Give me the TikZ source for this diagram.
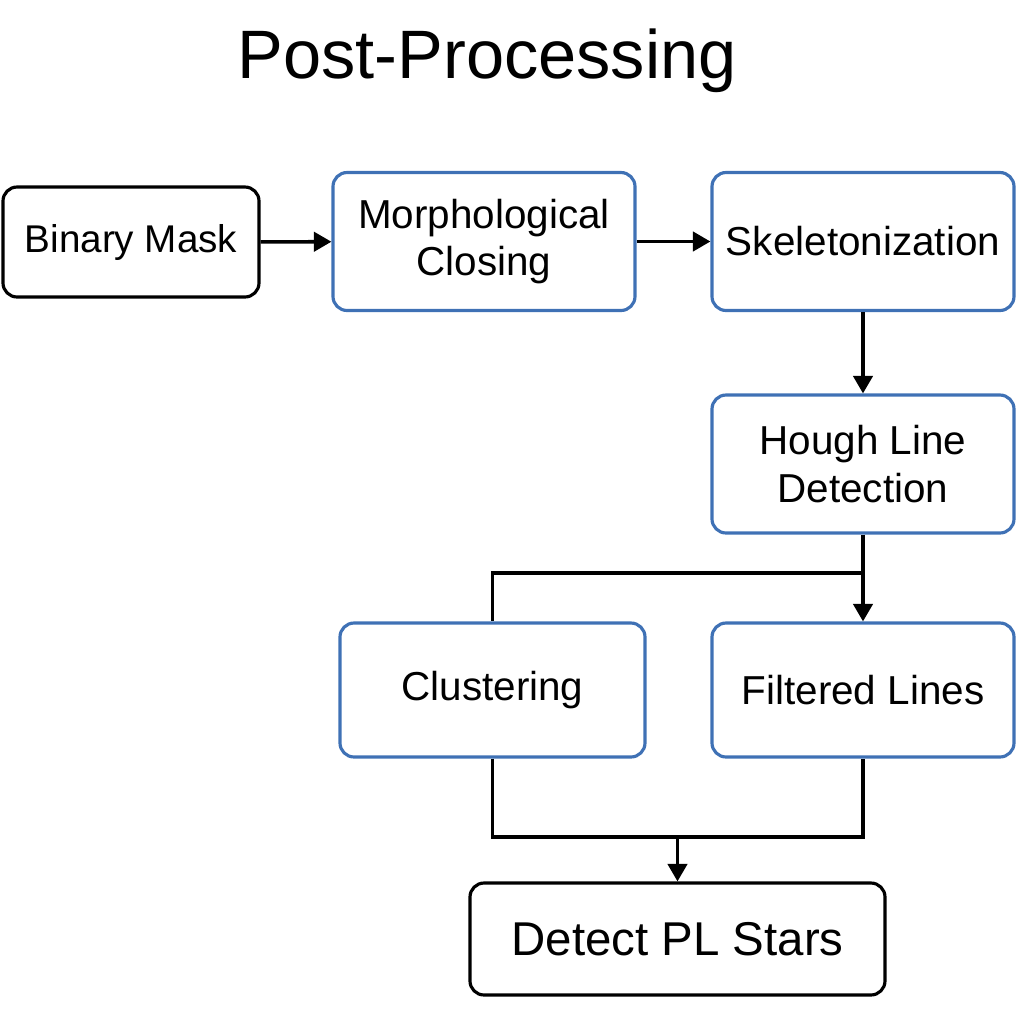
\documentclass[tikz,border=0pt]{standalone}
\usepackage{fontspec}
\setmainfont{Liberation Sans}
\usepackage{xcolor}
\usetikzlibrary{shapes}
\usetikzlibrary{arrows,arrows.meta}
\usetikzlibrary{positioning}
\definecolor{boxblue}{HTML}{3F71B5}
\tikzstyle{etape}=[rectangle,draw=boxblue,line width=1.8pt,rounded corners=8pt,
        minimum width=6.04cm,minimum height=2.76cm,align=center,
        font=\fontsize{23}{27}\selectfont]
\tikzstyle{extreme}=[rectangle,draw=black,line width=1.8pt,rounded corners=8pt,
        align=center,font=\fontsize{23}{27}\selectfont]
\tikzstyle{suite}=[-{Triangle[length=10pt,width=11pt]},line width=2pt]
\tikzstyle{ligne}=[line width=2pt]

\begin{document}
\begin{tikzpicture}
\useasboundingbox (0,0) rectangle (20.48,-20.48);
\node[font=\fontsize{39}{44}\selectfont] (titre) at (9.74,-1.22) {Post-Processing};
\node[extreme,minimum width=5.12cm,minimum height=2.2cm,font=\fontsize{22}{27}\selectfont] (mask) at (2.62,-4.84) {Binary Mask};
\node[etape] (closing) at (9.68,-4.83) {Morphological\\Closing};
\node[etape] (skel) at (17.26,-4.83) {Skeletonization};
\node[etape] (hough) at (17.26,-9.28) {Hough Line\\Detection};
\node[etape,minimum width=6.1cm,minimum height=2.68cm] (clust) at (9.85,-13.8) {Clustering};
\node[etape,minimum height=2.68cm] (filt) at (17.26,-13.8) {Filtered Lines};
\node[extreme,minimum width=8.3cm,minimum height=2.24cm,font=\fontsize{27}{30}\selectfont] (detect) at (13.55,-18.78) {Detect PL Stars};
\coordinate (fourche) at (17.26,-11.46);
\coordinate (jonction) at (13.55,-16.74);
%Drawing Edges
\draw[suite] (mask) -- (closing);
\draw[suite] (closing) -- (skel);
\draw[suite] (skel) -- (hough);
\draw[suite] (hough) -- (filt);
\draw[ligne] (fourche) -| (clust);
\draw[ligne] (clust) |- (jonction) -| (filt);
\draw[suite] (jonction) -- (detect);
\end{tikzpicture}
\end{document}
